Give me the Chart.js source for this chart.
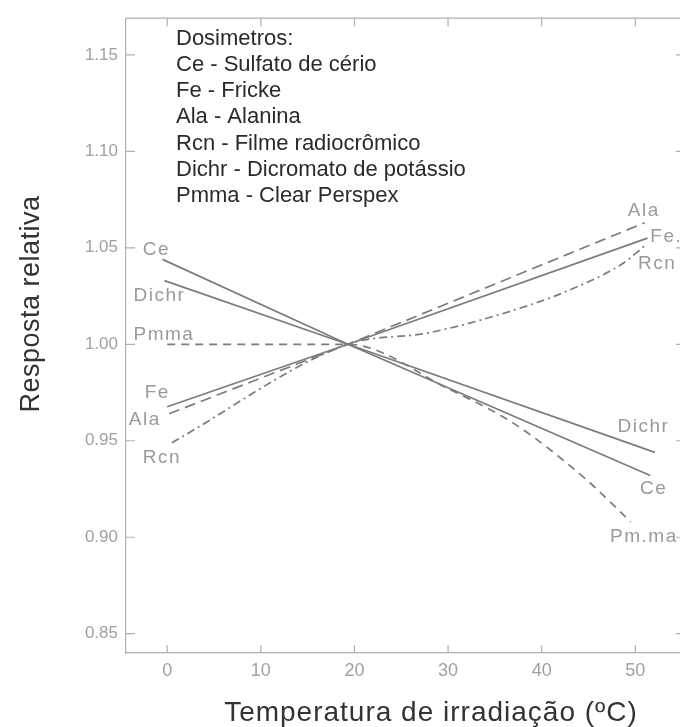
<!DOCTYPE html>
<html>
<head>
<meta charset="utf-8">
<script src="https://cdn.jsdelivr.net/npm/chart.js@4.4.0/dist/chart.umd.min.js"></script>
<style>
html, body { margin: 0; padding: 0; background: #fff; overflow: hidden; }
#wrap { width: 690px; height: 727px; }
</style>
</head>
<body>
<div id="wrap"><canvas id="chart" width="690" height="727"></canvas></div>
<script>
// Tick labels
const xTicks = [0, 10, 20, 30, 40, 50];
const yTicks = [0.85, 0.90, 0.95, 1.00, 1.05, 1.10, 1.15];

// Relative response vs irradiation temperature
const ceX = [-0.5, 19.3, 51.6];
const ceY = [1.044, 1.000, 0.932];
const dichrX = [-0.3, 19.3, 52.1];
const dichrY = [1.033, 1.000, 0.944];
const pmmaX = [0, 10, 19.3, 30, 37, 44.5, 49.5];
const pmmaY = [1.000, 1.000, 1.000, 0.977, 0.959, 0.931, 0.908];
const feX = [0, 19.3, 51.3];
const feY = [0.9676, 1.000, 1.055];
const alaX = [0.2, 19.3, 51];
const alaY = [0.964, 1.000, 1.063];
const rcnX = [0.5, 19.3, 28, 38.5, 43.4, 48.7, 51];
const rcnY = [0.949, 1.000, 1.006, 1.020, 1.029, 1.042, 1.051];

const legendTitle = "Dosimetros:";
const legendLines = [
    "Ce - Sulfato de cério",
    "Fe - Fricke",
    "Ala - Alanina",
    "Rcn - Filme radiocrômico",
    "Dichr - Dicromato de potássio",
    "Pmma - Clear Perspex"
];

// curve labels: text, x, y in data units
const curveLabels = [
    ["Ce", -2.6, 1.049], ["Dichr", -3.6, 1.025], ["Pmma", -3.6, 1.005],
    ["Fe", -2.4, 0.975], ["Ala", -4.1, 0.961], ["Rcn", -2.6, 0.941],
    ["Ala", 49.2, 1.069], ["Fe.", 51.6, 1.0555], ["Rcn", 50.3, 1.0416],
    ["Dichr", 48.1, 0.957], ["Ce", 50.5, 0.925], ["Pm.ma", 47.3, 0.900]
];

function pts(xs, ys) {
    return xs.map((v, i) => ({ x: v, y: ys[i] }));
}

const lineColor = "#7c7c7c";

function series(label, xs, ys, dash, curved) {
    return {
        label,
        data: pts(xs, ys),
        borderColor: lineColor,
        borderWidth: 1.7,
        borderDash: dash,
        pointRadius: 0,
        fill: false,
        tension: 0,
        cubicInterpolationMode: curved ? "monotone" : "default"
    };
}

const decor = {
    id: "decor",
    afterDraw(chart) {
        const { ctx, chartArea: a, scales: { x, y } } = chart;
        ctx.save();

        // frame and inward ticks
        ctx.strokeStyle = "#b0b0b0";
        ctx.lineWidth = 1.2;
        ctx.beginPath();
        ctx.moveTo(a.left, a.top);
        ctx.lineTo(a.right, a.top);
        xTicks.forEach(v => {
            const px = x.getPixelForValue(v);
            ctx.moveTo(px, a.bottom); ctx.lineTo(px, a.bottom - 8);
            ctx.moveTo(px, a.top); ctx.lineTo(px, a.top + 8);
        });
        yTicks.forEach(v => {
            const py = y.getPixelForValue(v);
            ctx.moveTo(a.left, py); ctx.lineTo(a.left + 9, py);
            ctx.moveTo(a.right, py); ctx.lineTo(a.right - 8, py);
        });
        ctx.stroke();

        // labels next to the curves
        ctx.fillStyle = "#9a9a9a";
        ctx.font = "19px 'Liberation Sans'";
        ctx.letterSpacing = "1.5px";
        ctx.textBaseline = "middle";
        ctx.textAlign = "left";
        curveLabels.forEach(([t, vx, vy]) => {
            ctx.fillText(t, x.getPixelForValue(vx), y.getPixelForValue(vy));
        });

        // legend block
        ctx.letterSpacing = "0px";
        ctx.fillStyle = "#2a2a2a";
        ctx.font = "22px 'Liberation Sans'";
        ctx.textBaseline = "alphabetic";
        ctx.fillText(legendTitle, 176, 45);
        legendLines.forEach((t, i) => ctx.fillText(t, 176, 71 + i * 26.2));

        // axis titles
        ctx.fillStyle = "#333";
        ctx.font = "28px 'Liberation Sans'";
        ctx.letterSpacing = "1px";
        ctx.textAlign = "center";
        ctx.fillText("Temperatura de irradiação (ºC)", 431, 721);

        ctx.save();
        ctx.translate(39, 304);
        ctx.rotate(-Math.PI / 2);
        ctx.font = "27px 'Liberation Sans'";
        ctx.letterSpacing = "0.5px";
        ctx.fillText("Resposta relativa", 0, 0);
        ctx.restore();

        ctx.restore();
    }
};

const ctx = document.getElementById("chart").getContext("2d");

new Chart(ctx, {
    type: "line",
    data: {
        datasets: [
            series("Ce", ceX, ceY, [], false),
            series("Dichr", dichrX, dichrY, [], false),
            series("Pmma", pmmaX, pmmaY, [8, 6], true),
            series("Fe", feX, feY, [], false),
            series("Ala", alaX, alaY, [11, 6], false),
            series("Rcn", rcnX, rcnY, [8, 4, 2, 4], true)
        ]
    },
    options: {
        responsive: false,
        animation: false,
        layout: { padding: { top: 13, right: 6, left: 0, bottom: 0 } },
        plugins: {
            legend: { display: false },
            tooltip: { enabled: false }
        },
        scales: {
            x: {
                type: "linear",
                min: -4.4,
                max: 55.2,
                afterBuildTicks: s => { s.ticks = xTicks.map(v => ({ value: v })); },
                afterFit: s => { s.height = 74; },
                grid: { display: false, drawTicks: false },
                border: { display: true, color: "#b0b0b0", width: 1.2 },
                ticks: {
                    padding: 7,
                    color: "#a0a0a0",
                    font: { family: "'Liberation Sans'", size: 18 },
                    maxRotation: 0
                }
            },
            y: {
                min: 0.840,
                max: 1.169,
                afterBuildTicks: s => { s.ticks = yTicks.map(v => ({ value: v })); },
                afterFit: s => { s.width = 126; },
                grid: { display: false, drawTicks: false },
                border: { display: true, color: "#b0b0b0", width: 1.2 },
                ticks: {
                    padding: 8,
                    color: "#a0a0a0",
                    font: { family: "'Liberation Sans'", size: 17 },
                    callback: v => v.toFixed(2)
                }
            }
        }
    },
    plugins: [decor]
});
</script>
</body>
</html>
